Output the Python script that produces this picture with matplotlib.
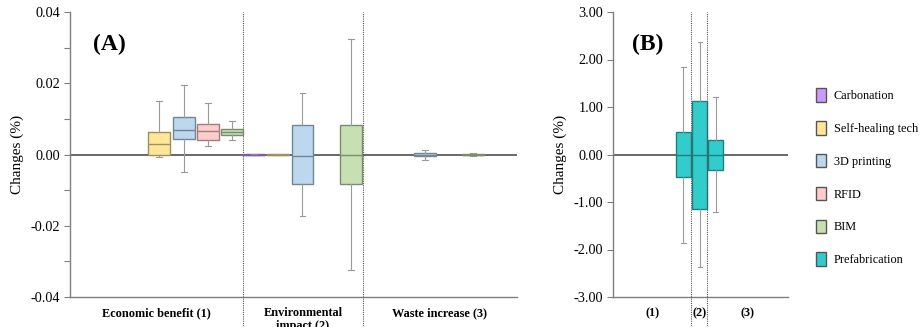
import matplotlib
matplotlib.use("Agg")
import matplotlib.pyplot as plt
from matplotlib.patches import Patch
from matplotlib.ticker import MultipleLocator, FormatStrFormatter
import matplotlib.colors as mcolors

plt.rcParams['font.family'] = ['Liberation Serif', 'DejaVu Serif']

series = ["Carbonation", "Self-healing tech", "3D printing", "RFID", "BIM", "Prefabrication"]
fills = ["#CC99FF", "#FFE699", "#BDD7EE", "#FFCCCC", "#C6E0B4", "#33CCCC"]

categories_a = ["Economic benefit (1)", "Environmental\nimpact (2)", "Waste increase (3)"]
categories_b = ["(1)", "(2)", "(3)"]

# Panel A stats per category: (series index, q1, median, q3, whisker low, whisker high)
econ = [
    (1, 0.0000, 0.0029, 0.0064, -0.0008, 0.0151),
    (2, 0.0044, 0.0068, 0.0106, -0.0050, 0.0196),
    (3, 0.0042, 0.0067, 0.0085, 0.0024, 0.0145),
    (4, 0.0055, 0.0063, 0.0072, 0.0040, 0.0094),
]
envi = [
    (0, -0.0001, 0.0000, 0.0001, -0.0002, 0.0002),
    (1, -0.00004, 0.0000, 0.00004, -0.00005, 0.00005),
    (2, -0.0083, -0.0003, 0.0082, -0.0173, 0.0173),
    (4, -0.0084, 0.0000, 0.0084, -0.0323, 0.0323),
]
waste = [
    (2, -0.0005, 0.0000, 0.0005, -0.0016, 0.0014),
    (4, -0.0001, 0.0000, 0.0001, -0.0005, 0.0005),
]
panel_a = [econ, envi, waste]

# Panel B: Prefabrication per category
prefab_q1 = [-0.465, -1.15, -0.316]
prefab_med = [0.0, 0.0, 0.0]
prefab_q3 = [0.465, 1.13, 0.295]
prefab_lo = [-1.86, -2.37, -1.22]
prefab_hi = [1.85, 2.36, 1.215]

# layout (slot units)
a_xmax = 18.4
a_group_start = [2.68, 7.57, 12.6]
a_dividers = [7.12, 12.06]
b_xmax = 10.94
b_pos = [4.4, 5.42, 6.41]
b_dividers = [4.9, 5.9]


def darken(c, f=0.62):
    r, g, b = mcolors.to_rgb(c)
    return (r * f, g * f, b * f)


fig = plt.figure(figsize=(9.23, 3.27), dpi=100)
axA = fig.add_axes([70/923, 1-297/327, 447/923, 285/327])
axB = fig.add_axes([613/923, 1-297/327, 175/923, 285/327])

axis_grey = "#7f7f7f"


def style_axis(ax):
    for s in ["top", "right"]:
        ax.spines[s].set_visible(False)
    for s in ["left", "bottom"]:
        ax.spines[s].set_color(axis_grey)
        ax.spines[s].set_linewidth(1.0)
    ax.tick_params(axis='y', which='both', direction='out', color=axis_grey,
                   labelsize=10.3, length=4, width=0.8, pad=3)
    ax.tick_params(axis='x', length=0, labelbottom=False)
    ax.axhline(0, color="#404040", lw=1.1, zorder=1)


def draw_box(ax, pos, q1, med, q3, lo, hi, color, width, capw):
    ec = darken(color)
    stats = [dict(med=med, q1=q1, q3=q3, whislo=lo, whishi=hi, fliers=[])]
    ax.bxp(stats, positions=[pos], widths=[width], capwidths=[capw],
           patch_artist=True, showfliers=False, manage_ticks=False,
           boxprops=dict(facecolor=color, edgecolor=ec, linewidth=1.0),
           medianprops=dict(color=ec, linewidth=1.0),
           whiskerprops=dict(color="#9a9a9a", linewidth=0.8),
           capprops=dict(color="#9a9a9a", linewidth=0.8))


# Panel A
style_axis(axA)
axA.set_xlim(0, a_xmax)
axA.set_ylim(-0.04, 0.04)
axA.yaxis.set_major_locator(MultipleLocator(0.02))
axA.yaxis.set_minor_locator(MultipleLocator(0.01))
axA.yaxis.set_major_formatter(FormatStrFormatter('%.2f'))
for gi, group in enumerate(panel_a):
    for (si, q1, med, q3, lo, hi) in group:
        draw_box(axA, a_group_start[gi] + si, q1, med, q3, lo, hi, fills[si], 0.9, 0.24)
for d in a_dividers:
    axA.axvline(d, ymin=-0.11, ymax=1.0, color="#555555", lw=0.8,
                ls=(0, (1, 1)), clip_on=False, zorder=0)
edges = [0] + a_dividers + [a_xmax]
for i, lab in enumerate(categories_a):
    xc = (edges[i] + edges[i+1]) / 2
    axA.text(xc, -0.036, lab, transform=axA.get_xaxis_transform(), ha='center',
             va='top', fontsize=8.8, fontweight='bold', linespacing=1.1)
axA.set_ylabel("Changes (%)", fontsize=11, labelpad=5)
axA.text(0.052, 0.885, "(A)", transform=axA.transAxes, fontsize=17,
         fontweight='bold', va='center', ha='left')

# Panel B
style_axis(axB)
axB.set_xlim(0, b_xmax)
axB.set_ylim(-3, 3)
axB.yaxis.set_major_locator(MultipleLocator(1.0))
axB.yaxis.set_major_formatter(FormatStrFormatter('%.2f'))
for i in range(3):
    draw_box(axB, b_pos[i], prefab_q1[i], prefab_med[i], prefab_q3[i],
             prefab_lo[i], prefab_hi[i], fills[5], 0.95, 0.27)
for d in b_dividers:
    axB.axvline(d, ymin=-0.11, ymax=1.0, color="#555555", lw=0.8,
                ls=(0, (1, 1)), clip_on=False, zorder=3)
edges = [0] + b_dividers + [b_xmax]
for i, lab in enumerate(categories_b):
    xc = (edges[i] + edges[i+1]) / 2
    axB.text(xc, -0.036, lab, transform=axB.get_xaxis_transform(), ha='center',
             va='top', fontsize=8.8, fontweight='bold')
axB.set_ylabel("Changes (%)", fontsize=11, labelpad=5)
axB.text(0.11, 0.885, "(B)", transform=axB.transAxes, fontsize=17,
         fontweight='bold', va='center', ha='left')

handles = [Patch(facecolor=c, edgecolor="#555555", linewidth=1.0) for c in fills]
fig.legend(handles, series, loc='upper left', bbox_to_anchor=(816/923, 1-88/327),
           frameon=False, fontsize=8.8, handlelength=0.8, handleheight=1.35,
           labelspacing=1.55, handletextpad=0.65, borderpad=0, borderaxespad=0)

fig.savefig("out.png", dpi=100)
